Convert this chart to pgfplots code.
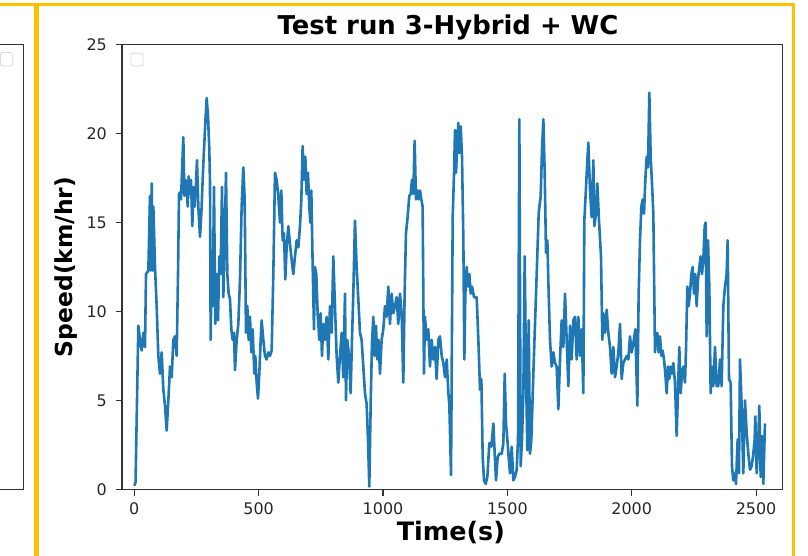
\documentclass[border=0pt]{standalone}
\usepackage{fontspec}
\setmainfont{DejaVu Sans}
\usepackage{pgfplots}
\pgfplotsset{compat=1.18}
\definecolor{mplblue}{RGB}{31,119,180}
\definecolor{frameyellow}{RGB}{255,192,0}
\begin{document}
\begin{tikzpicture}[x=1bp,y=1bp]
\useasboundingbox (0,0) rectangle (808,556);
% screenshot decorations: panel borders and the edge of the neighbouring chart
\draw[frameyellow, line width=2.5bp] (0,551.3) -- (35.3,551.3) -- (35.3,0);
\draw[frameyellow, line width=2.5bp] (37.8,0) -- (37.8,551.3) -- (793.5,551.3) -- (793.5,0);
\draw[black!80, line width=1.1bp] (0,511.3) -- (23.7,511.3) -- (23.7,66.9) -- (0,66.9);
\draw[gray!30, rounded corners=2bp, line width=0.8bp] (0.5,490) rectangle (12.7,503.5);
\begin{axis}[
  at={(122bp,66.7bp)}, anchor=south west,
  scale only axis, width=660.7bp, height=444.6bp,
  xmin=-49.5, xmax=2607, ymin=0, ymax=25,
  xtick={0,500,1000,1500,2000,2500},
  ytick={0,5,10,15,20,25},
  scaled ticks=false,
  /pgf/number format/1000 sep={},
  /pgf/number format/assume math mode=true,
  tick align=outside, xtick pos=bottom, ytick pos=left,
  major tick length=6.5bp,
  axis line style={black!80, line width=1.1bp},
  every tick/.style={black!80, line width=1.1bp},
  tick label style={font=\fontsize{16}{19}\selectfont, text=black!85, inner sep=0pt},
  xticklabel style={anchor=base, yshift=-19bp},
  yticklabel style={anchor=east, xshift=-8.5bp},
  title={Test run 3-Hybrid + WC},
  title style={at={(axis description cs:0.4934,1.0105)}, anchor=base, yshift=0pt, inner sep=0pt, font=\fontsize{26}{30}\selectfont\bfseries},
  xlabel={Time(s)},
  xlabel style={at={(axis description cs:0.4977,-0.1152)}, anchor=base, inner sep=0pt, font=\fontsize{25.5}{29}\selectfont\bfseries},
  ylabel={Speed(km/hr)},
  ylabel style={at={(axis description cs:-0.0749,0.5)}, anchor=base, inner sep=0pt, font=\fontsize{23.5}{27}\selectfont\bfseries},
  clip=true,
]
\addplot[mplblue, line width=2.6bp, line join=round, mark=none] coordinates {
(0,0.2) (5,0.4) (16.2,9.2) (22.9,8.4) (29.6,7.8) (36.3,8.8) (43.0,8.0) (47.0,12.1) (56.4,12.3)
(63.1,16.5) (65.8,12.3) (69.8,17.2) (73.8,12.3) (76.5,15.9) (83.2,12.5) (89.9,10.3) (96.6,7.5)
(103.3,6.5) (110.0,7.7) (116.7,5.6) (123.4,4.7) (130.1,3.3) (136.8,5.0) (143.5,6.9) (150.2,6.3)
(156.9,8.4) (163.6,8.6) (170.3,7.5) (175.7,12.1) (179.7,16.6) (183.7,16.7) (187.7,16.3) (191.7,17.8)
(197.1,19.8) (201.1,16.5) (205.1,17.4) (210.5,17.2) (214.5,15.9) (218.5,17.6) (223.9,16.6) (227.9,17.4)
(233.3,14.8) (237.3,17.0) (242.7,15.9) (248.0,17.2) (252.0,18.5) (257.4,15.9) (264.1,14.2) (269.5,15.5)
(274.8,17.4) (280.2,19.1) (285.5,20.6) (290.9,22.0) (296.3,21.0) (301.6,19.1) (304.3,17.2) (307.0,8.4)
(311.0,13.1) (315.0,10.3) (320.4,17.0) (325.7,9.3) (331.1,12.1) (336.5,9.5) (341.8,13.1) (347.2,12.1)
(352.5,17.0) (357.9,10.8) (363.3,14.0) (368.6,17.8) (374.0,12.1) (379.3,11.0) (384.7,10.7) (390.1,9.0)
(395.4,8.4) (400.8,8.8) (404.8,6.7) (411.5,8.4) (418.2,9.3) (424.9,11.8) (431.6,15.9) (438.3,18.1)
(443.7,16.3) (449.0,8.8) (454.4,10.3) (459.7,8.4) (465.1,9.7) (470.5,7.7) (475.8,9.0) (482.5,6.5)
(486.5,7.5) (491.9,6.0) (497.3,5.1) (502.6,6.5) (508.0,8.4) (512.0,9.5) (518.7,8.4) (525.4,7.5)
(532.1,7.3) (538.8,7.7) (545.5,7.5) (552.2,7.8) (558.9,12.1) (565.6,17.8) (572.3,17.4) (579.0,16.5)
(585.7,15.0) (591.1,16.8) (596.4,14.0) (601.8,14.4) (607.1,11.8) (612.5,13.6) (619.2,14.8) (625.9,13.8)
(632.6,12.9) (639.3,12.1) (646.0,13.1) (652.7,14.0) (659.4,13.6) (666.1,14.8) (671.5,16.3) (676.8,19.3)
(682.2,17.4) (687.5,18.7) (692.9,16.6) (698.3,17.8) (703.6,15.9) (707.6,15.0) (711.7,16.8) (717.0,12.7)
(722.4,9.0) (726.4,12.5) (731.8,12.1) (737.1,9.9) (743.8,8.4) (749.2,9.9) (754.5,7.5) (759.9,9.3)
(766.6,8.4) (773.3,9.7) (780.0,7.3) (786.7,10.3) (793.4,8.8) (800.1,13.1) (806.8,10.3) (813.5,7.5)
(820.2,6.0) (826.9,7.5) (833.6,8.8) (840.3,6.3) (847.0,11.0) (851.0,5.0) (856.4,8.4) (863.1,7.5)
(869.8,5.4) (875.1,8.4) (880.5,11.0) (887.2,15.1) (893.9,12.5) (900.6,10.7) (907.3,8.8) (914.0,8.4)
(920.7,6.9) (927.4,5.4) (934.1,4.8) (939.5,2.8) (944.8,0.15) (950.2,4.7) (955.5,8.2) (960.9,9.7)
(966.3,7.5) (971.6,9.2) (977.0,7.3) (982.3,8.4) (987.7,6.5) (994.4,8.4) (1001.1,9.0) (1007.8,10.3)
(1014.5,9.7) (1021.2,11.4) (1027.9,9.3) (1034.6,11.0) (1041.3,9.9) (1048.0,10.3) (1054.7,10.8) (1061.4,9.3)
(1068.1,11.0) (1074.8,9.9) (1081.5,6.0) (1086.9,11.0) (1092.2,14.4) (1098.9,15.3) (1105.6,16.5) (1111.0,16.6)
(1116.3,17.4) (1121.7,16.6) (1127.1,19.6) (1132.4,16.3) (1137.8,16.8) (1143.1,16.3) (1148.5,16.8) (1153.9,16.3)
(1159.2,15.9) (1164.6,6.5) (1168.6,9.7) (1175.3,8.4) (1182.0,9.0) (1188.7,6.9) (1195.4,8.4) (1202.1,7.3)
(1208.8,8.0) (1215.5,6.2) (1222.2,8.4) (1228.9,8.6) (1235.9,7.5) (1242.6,7.1) (1249.3,6.3) (1256.0,7.3)
(1262.7,5.4) (1266.7,4.7) (1273.4,0.8) (1280.1,15.3) (1285.5,17.8) (1289.5,20.2) (1293.5,17.8) (1298.9,19.6)
(1302.9,20.6) (1306.9,18.9) (1312.3,20.4) (1317.6,18.7) (1323.0,14.0) (1327.0,7.3) (1331.0,11.0) (1336.4,12.5)
(1341.8,11.4) (1347.1,12.1) (1352.5,11.0) (1357.8,11.4) (1365.9,10.8) (1376.6,10.8) (1383.3,8.4) (1390.0,5.6)
(1395.4,6.2) (1400.7,1.8) (1406.1,0.5) (1412.8,0.3) (1419.5,0.7) (1427.5,2.6) (1435.6,2.4) (1443.6,3.7)
(1449.0,2.0) (1454.3,0.5) (1461.0,1.8) (1467.7,2.0) (1477.1,2.0) (1483.8,2.6) (1489.2,6.5) (1494.5,3.7)
(1499.9,2.8) (1505.2,1.8) (1510.6,0.9) (1517.3,2.4) (1524.0,0.5) (1530.7,0.7) (1537.4,1.1) (1542.8,2.8)
(1548.1,20.8) (1553.5,1.3) (1558.8,2.8) (1564.2,5.4) (1569.6,13.1) (1574.9,6.5) (1580.3,2.2) (1585.6,9.5)
(1591.0,2.0) (1596.4,2.8) (1604.4,6.5) (1611.1,9.3) (1617.8,12.1) (1625.8,15.5) (1633.9,16.5) (1639.2,19.1)
(1644.6,20.8) (1650.0,17.8) (1655.3,13.3) (1660.7,14.0) (1666.0,11.0) (1671.4,8.4) (1678.1,6.9) (1684.8,7.7)
(1691.5,7.1) (1698.2,6.9) (1704.9,4.5) (1711.6,7.3) (1718.3,9.5) (1725.0,8.0) (1731.7,11.0) (1738.4,8.4)
(1745.1,5.8) (1751.8,9.2) (1758.5,7.3) (1765.2,9.5) (1771.9,9.7) (1778.6,7.3) (1785.3,9.7) (1792.0,7.5)
(1798.7,9.0) (1805.4,5.4) (1809.4,15.1) (1814.8,16.6) (1821.5,18.5) (1825.5,19.5) (1832.2,16.8) (1838.9,15.3)
(1845.6,18.5) (1849.6,14.8) (1856.3,15.5) (1861.6,17.2) (1868.4,15.1) (1876.4,13.1) (1881.8,8.4) (1885.8,9.9)
(1892.5,8.8) (1899.2,10.1) (1905.9,8.8) (1912.6,8.0) (1919.3,6.5) (1926.0,8.0) (1932.7,6.3) (1939.4,6.9)
(1946.1,7.7) (1952.8,9.3) (1959.5,6.2) (1966.2,7.1) (1972.9,7.3) (1979.6,7.5) (1986.3,7.3) (1993.0,8.6)
(1999.7,7.7) (2006.4,8.2) (2014.4,9.0) (2022.5,4.7) (2027.8,11.0) (2033.2,14.0) (2038.6,15.9) (2043.9,16.3)
(2049.3,15.5) (2054.6,17.4) (2060.0,18.7) (2065.4,18.1) (2070.7,22.3) (2076.1,18.7) (2081.4,17.2) (2086.8,15.5)
(2093.5,7.7) (2097.5,8.4) (2102.9,8.8) (2108.2,7.7) (2113.6,8.6) (2119.0,7.5) (2124.3,7.8) (2129.7,7.3)
(2135.0,6.5) (2140.4,5.4) (2145.8,6.9) (2151.1,6.2) (2156.5,6.9) (2161.8,6.5) (2167.2,7.1) (2173.9,6.0)
(2180.6,3.0) (2186.0,5.6) (2191.3,8.0) (2196.7,5.4) (2202.0,6.5) (2207.4,6.9) (2214.1,6.0) (2218.1,7.8)
(2223.5,11.4) (2228.8,10.3) (2234.2,11.0) (2239.6,12.1) (2244.9,12.5) (2250.3,11.0) (2255.6,12.1) (2261.0,10.3)
(2266.4,11.8) (2271.7,12.5) (2277.1,13.1) (2282.4,12.1) (2287.8,12.9) (2293.2,14.8) (2297.2,15.0) (2301.2,8.6)
(2306.6,14.0) (2311.9,11.4) (2317.3,5.4) (2322.6,6.9) (2328.0,5.8) (2334.7,8.0) (2341.4,5.8) (2348.1,5.8)
(2354.8,7.3) (2361.5,5.8) (2368.2,10.3) (2374.9,11.4) (2381.6,12.1) (2385.6,14.0) (2391.0,6.2) (2397.7,6.0)
(2403.0,1.3) (2408.4,0.5) (2415.1,0.9) (2419.1,0.3) (2425.8,2.8) (2431.2,0.9) (2435.2,7.3) (2441.9,4.7)
(2448.6,0.9) (2455.3,5.0) (2462.0,3.2) (2468.7,2.0) (2475.4,1.1) (2482.1,1.3) (2488.8,2.0) (2494.2,2.8)
(2496.8,4.1) (2502.2,0.9) (2507.6,2.2) (2512.9,4.7) (2518.3,0.7) (2523.6,3.0) (2529.0,0.3) (2535.7,3.7)
};
\draw[gray!30, rounded corners=2bp, line width=0.8bp, fill=white] (axis description cs:0.0136,0.952) rectangle (axis description cs:0.0318,0.981);
\end{axis}
\end{tikzpicture}
\end{document}
